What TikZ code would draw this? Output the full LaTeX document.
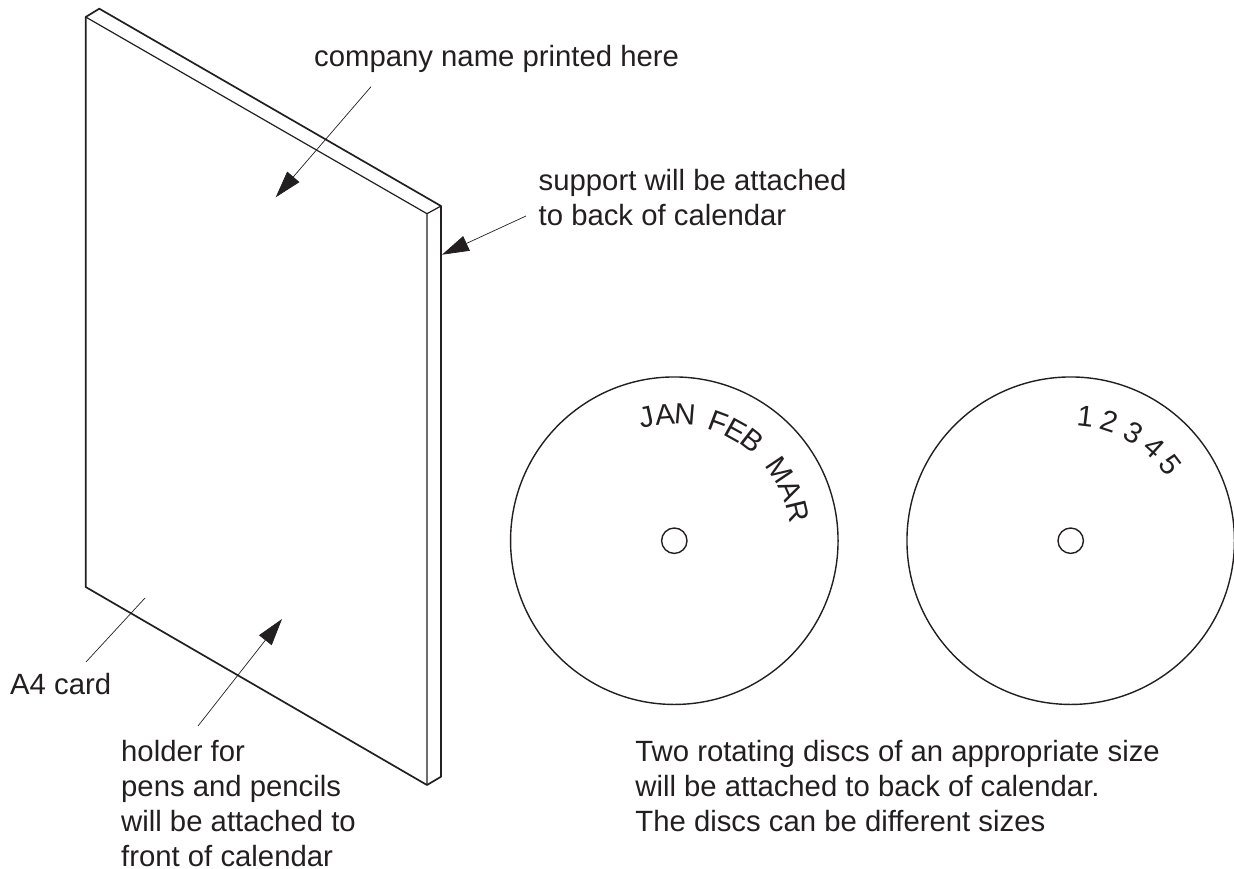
\documentclass[tikz,border=0pt]{standalone}
\usepackage{fontspec}
\setmainfont{Liberation Sans}
\usetikzlibrary{arrows.meta,calc}
\definecolor{ink}{HTML}{231F20}
\tikzset{
  x=1pt,y=-1pt,
  edgeline/.style={line width=1.7pt,line join=round,line cap=round,ink},
  thinline/.style={line width=1.2pt,ink},
  leader/.style={line width=0.7pt,ink},
  headarrow/.style={leader,-{Triangle[length=27pt,width=16pt]}},
  plainarrow/.style={leader},
  lab/.style={font=\fontsize{29.3}{35}\selectfont,inner sep=0pt,align=left,anchor=north west,ink},
  glyph/.style={font=\fontsize{29.3}{29.3}\selectfont,inner sep=0pt,anchor=base,ink},
  disc/.style={circle,draw,line width=1.4pt,ink,minimum size=327.5pt,inner sep=0pt},
  hole/.style={circle,draw,line width=1.4pt,ink,minimum size=25.4pt,inner sep=0pt},
}
\begin{document}
\begin{tikzpicture}
\useasboundingbox (0,0) rectangle (1234,868);
% card
\coordinate (ftl) at (85.7,17);
\coordinate (btl) at (99.3,8.7);
\coordinate (btr) at (441,206);
\coordinate (ftr) at (427,213.7);
\coordinate (fbr) at (427,785);
\coordinate (bbr) at (441,776.7);
\coordinate (fbl) at (85.7,587);
\draw[edgeline] (ftl) -- (btl) -- (btr) -- (bbr) -- (fbr) -- (fbl) -- cycle;
\draw[thinline] (ftl) -- (ftr) -- (fbr);
\draw[thinline] (ftr) -- (btr);
% labels
\node[lab] (company) at (314,45.4) {company name printed here};
\node[lab] (support) at (538.5,168.7) {support will be attached\\to back of calendar};
\node[lab] (acard) at (10,672.7) {A4 card};
\node[lab] (holder) at (121,740.4) {holder for\\pens and pencils\\will be attached to\\front of calendar};
\node[lab] (discs) at (635.2,740.4) {Two rotating discs of an appropriate size\\will be attached to back of calendar.\\The discs can be different sizes};
% leaders
\coordinate (a1s) at (371,86.7); \coordinate (a1e) at (275.7,197.3);
\coordinate (a2s) at (526,216); \coordinate (a2e) at (442,254.7);
\coordinate (a3s) at (198,726); \coordinate (a3e) at (282,619);
\coordinate (a4s) at (86,662); \coordinate (a4e) at (145,598);
\draw[headarrow] (a1s) -- (a1e);
\draw[headarrow] (a2s) -- (a2e);
\draw[headarrow] (a3s) -- (a3e);
\draw[plainarrow] (a4s) -- (a4e);
% discs
\node[disc] (d1) at (674.3,540.7) {};
\node[hole] (h1) at (674.3,540.7) {};
\node[disc] (d2) at (1070.7,540.7) {};
\node[hole] (h2) at (1070.7,540.7) {};
\foreach \t/\a [count=\i] in {J/-12.5,A/-4.3,N/4.8,F/20.6,E/29.1,B/38,M/56,A/66.5,R/76.5}{
  \node[glyph,rotate=-\a] (m\i) at ($(d1.center)+({116.5*sin(\a)},{-116.5*cos(\a)})$) {\t};
}
\foreach \t/\a [count=\i] in {1/6.8,2/18.2,3/30.2,4/42,5/52.7}{
  \node[glyph,rotate=-\a] (n\i) at ($(d2.center)+({115*sin(\a)},{-115*cos(\a)})$) {\t};
}
\end{tikzpicture}
\end{document}
